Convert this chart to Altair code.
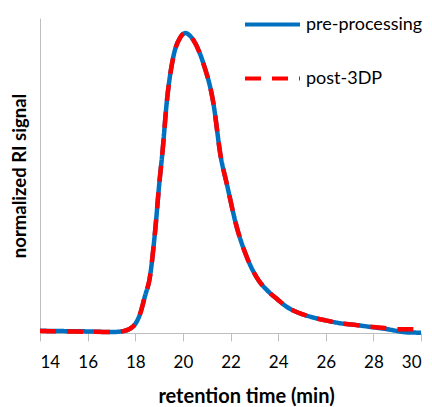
import altair as alt
import pandas as pd

# retention time (min)
x_pre = [14, 15, 16, 17, 17.5, 17.9, 18.2, 18.4, 18.62, 18.83, 19.01, 19.15, 19.32,
         19.6, 19.88, 20.1, 20.44, 20.86, 21.28, 21.59, 21.84, 22.26, 22.68, 23.2,
         23.52, 24.0, 24.36, 24.8, 25.34, 26.0, 26.6, 27.3, 28.0, 28.6, 29.1, 29.4, 30]
y_pre = [0.007, 0.006, 0.005, 0.003, 0.006, 0.02, 0.06, 0.115, 0.18, 0.32, 0.475, 0.58, 0.73,
         0.877, 0.937, 0.952, 0.93, 0.856, 0.73, 0.56, 0.475, 0.337, 0.242, 0.165,
         0.137, 0.105, 0.083, 0.066, 0.052, 0.04, 0.031, 0.025, 0.018, 0.012, 0.005, 0.002, 0.001]

x_post = x_pre
y_post = [0.006, 0.005, 0.004, 0.003, 0.006, 0.02, 0.06, 0.115, 0.18, 0.32, 0.475, 0.58, 0.73,
          0.877, 0.937, 0.952, 0.93, 0.856, 0.73, 0.56, 0.475, 0.337, 0.242, 0.165,
          0.137, 0.105, 0.083, 0.066, 0.052, 0.04, 0.031, 0.025, 0.019, 0.015, 0.012, 0.012, 0.011]

series = ["pre-processing", "post-3DP"]
colors = ["#0070C0", "#FF0000"]
dashes = [[1, 0], [16, 11]]
x_ticks = [14, 16, 18, 20, 22, 24, 26, 28, 30]

df = pd.concat([
    pd.DataFrame({"t": x_pre, "v": y_pre, "series": series[0]}),
    pd.DataFrame({"t": x_post, "v": y_post, "series": series[1]}),
])

FONT = "Lato"

x_enc = alt.X("t:Q", scale=alt.Scale(domain=[14, 30], nice=False, zero=False),
              axis=alt.Axis(values=x_ticks, title="retention time (min)", grid=False,
                            tickSize=8, labelPadding=13, titlePadding=16,
                            titleX=206, titleAlign="center",
                            labelFontSize=17, titleFontSize=20))
y_enc = alt.Y("v:Q", scale=alt.Scale(domain=[0, 1], nice=False),
              axis=alt.Axis(title="normalized RI signal", grid=False, ticks=False,
                            labels=False, titlePadding=11, titleFontSize=18.5))

legend_kw = dict(title=None, orient="none", legendX=203, legendY=-23,
                 symbolType="stroke", symbolSize=3025, symbolStrokeWidth=4,
                 labelFontSize=18, labelFont=FONT, labelColor="black",
                 rowPadding=15, labelOffset=4, padding=0)
color_enc = alt.Color("series:N", scale=alt.Scale(domain=series, range=colors),
                      legend=alt.Legend(**legend_kw))
dash_enc = alt.StrokeDash("series:N", scale=alt.Scale(domain=series, range=dashes),
                          legend=alt.Legend(**legend_kw))

base = alt.Chart(df)
pre = base.transform_filter(alt.datum.series == series[0]).mark_line(
    strokeWidth=4.5, interpolate="monotone").encode(x=x_enc, y=y_enc, color=color_enc, strokeDash=dash_enc)
post = base.transform_filter(alt.datum.series == series[1]).mark_line(
    strokeWidth=4.5, interpolate="monotone").encode(x=x_enc, y=y_enc, color=color_enc, strokeDash=dash_enc)

chart = alt.layer(pre, post).properties(
    width=381, height=315,
    autosize=alt.AutoSizeParams(type="none"),
    padding={"left": 32, "top": 10, "right": 3, "bottom": 74},
).configure_view(stroke=None).configure_axis(
    domainColor="#BFBFBF", tickColor="#BFBFBF", domainWidth=1,
    labelFont=FONT, labelColor="black",
    titleFont=FONT, titleFontWeight="bold", titleColor="black",
)

chart.save("out.html", embed_options={"renderer": "svg", "actions": False})
